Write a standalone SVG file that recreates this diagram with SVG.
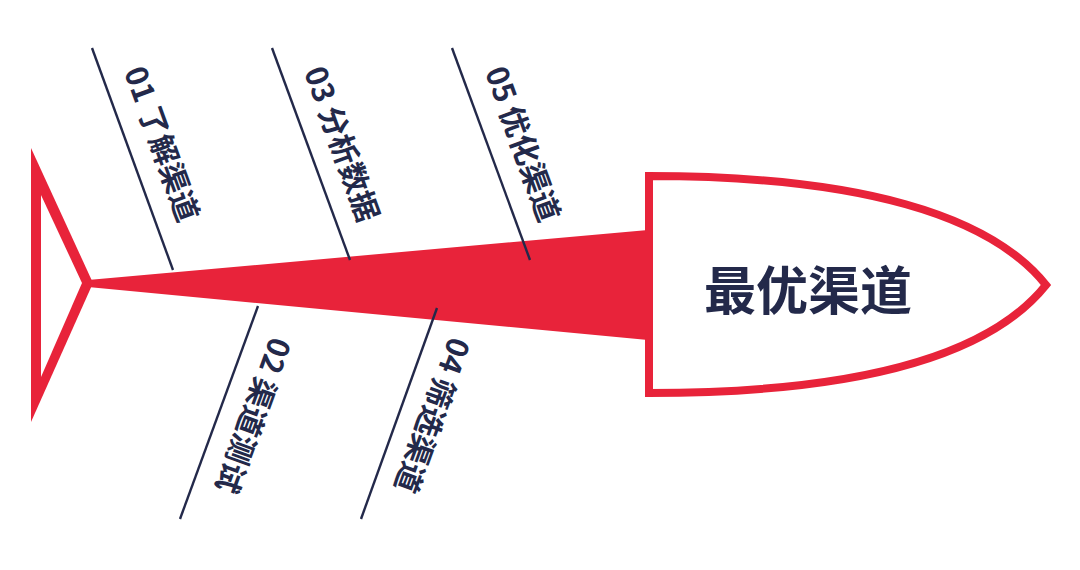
<svg xmlns="http://www.w3.org/2000/svg" width="1080" height="570" viewBox="0 0 1080 570">
<style>
.red{fill:#e8233a}
.white{fill:#ffffff}
.outline{fill:#ffffff;stroke:#e8233a;stroke-linejoin:miter}
.bone{stroke:#23294a;stroke-width:2.4;fill:none}
.lbl{font-family:"Noto Sans CJK SC","Noto Sans",sans-serif;font-size:30px;font-weight:600;fill:#23294a;dominant-baseline:central}
.title{font-family:"Noto Sans CJK SC","Noto Sans",sans-serif;font-size:52px;font-weight:bold;fill:#23294a;text-anchor:middle;dominant-baseline:central}
</style>
<rect width="1080" height="570" fill="#ffffff"/>
<g id="tail">
<polygon class="red" points="31,148 31,422 93,283"/>
<polygon class="white" points="41,195 41,377 82,283"/>
</g>
<g id="body">
<polygon class="red" points="88,280 648,230 648,340 88,287"/>
</g>
<g id="head">
<path class="outline" stroke-width="8" d="M649,176 C860,176 990,215 1046,285 C990,355 860,393 649,393 Z"/>
<text class="title" x="808" y="287">最优渠道</text>
</g>
<g id="connectors">
<line class="bone" x1="92" y1="48" x2="173" y2="270"/>
<line class="bone" x1="272" y1="48" x2="350" y2="260"/>
<line class="bone" x1="452" y1="48" x2="530" y2="260"/>
<line class="bone" x1="258" y1="306" x2="180" y2="519"/>
<line class="bone" x1="437" y1="308" x2="361" y2="519"/>
</g>
<g id="n01"><text class="lbl" transform="translate(136,67) rotate(70)">01 了解渠道</text></g>
<g id="n03"><text class="lbl" transform="translate(316,67) rotate(70)">03 分析数据</text></g>
<g id="n05"><text class="lbl" transform="translate(497,67) rotate(70)">05 优化渠道</text></g>
<g id="n02"><text class="lbl" transform="translate(283,340) rotate(110)">02 渠道测试</text></g>
<g id="n04"><text class="lbl" transform="translate(462,340) rotate(110)">04 筛选渠道</text></g>
</svg>
